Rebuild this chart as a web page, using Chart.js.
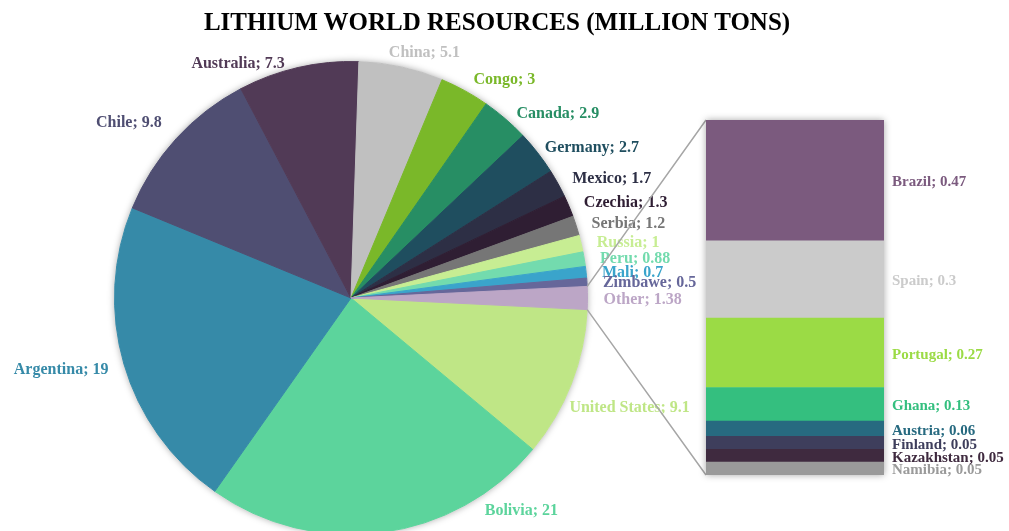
<!DOCTYPE html>
<html>
<head>
<meta charset="utf-8">
<title>Lithium world resources</title>
<script src="https://cdn.jsdelivr.net/npm/chart.js@4.4.1/dist/chart.umd.min.js"></script>
<style>
  html, body { margin: 0; padding: 0; background: #fff; overflow: hidden; }
  #wrap { position: relative; width: 1009px; height: 531px; overflow: hidden; }
  #title {
    position: absolute; left: 0; top: 8px; width: 994px;
    text-align: center; line-height: 28px;
    font: bold 25px "Liberation Serif", serif; color: #000;
  }
  canvas { position: absolute; left: 0; top: 0; }
</style>
</head>
<body>
<div id="wrap">
  <canvas id="pie" width="1009" height="545"></canvas>
  <canvas id="bar" width="1009" height="545"></canvas>
  <div id="title">LITHIUM WORLD RESOURCES (MILLION TONS)</div>
</div>
<script>
// main pie, clockwise from the "Other" slice
const pieLabels = ['United States', 'Bolivia', 'Argentina', 'Chile', 'Australia', 'China', 'Congo',
    'Canada', 'Germany', 'Mexico', 'Czechia', 'Serbia', 'Russia', 'Peru', 'Mali', 'Zimbawe', 'Other'];
const pieValues = [9.1, 21, 19, 9.8, 7.3, 5.1, 3, 2.9, 2.7, 1.7, 1.3, 1.2, 1, 0.88, 0.7, 0.5, 1.38];
const pieColors = ['#bfe686', '#5cd49c', '#368aa8', '#4f4e72', '#513a56', '#c0c0c0', '#7ab829',
    '#278e64', '#1f4e5f', '#2d2f45', '#2f1e33', '#767676', '#c7ed93', '#73dbae', '#3aa4cb', '#66679a', '#bca6c6'];

// breakdown of "Other", top to bottom
const barLabels = ['Brazil', 'Spain', 'Portugal', 'Ghana', 'Austria', 'Finland', 'Kazakhstan', 'Namibia'];
const barValues = [0.47, 0.3, 0.27, 0.13, 0.06, 0.05, 0.05, 0.05];
const barColors = ['#7b5a7e', '#cbcbcb', '#9bdb45', '#34bf7f', '#276a80', '#3e3e5c', '#3f2a3f', '#9a9a9a'];

const labelFont = 'bold 16px "Liberation Serif", serif';
const barLabelFont = 'bold 15px "Liberation Serif", serif';

// a few labels were dragged by hand in the original
const labelNudge = {
    'Australia': [-36, 8],
    'China': [5, -2],
    'Bolivia': [128, -37],
    'United States': [-17, 17],
    'Chile': [-2, -8],
    'Canada': [0, 4],
    'Germany': [-6, 2]
};

const pieExtras = {
    id: 'pieExtras',
    beforeDatasetsDraw(chart) {
        const arc = chart.getDatasetMeta(0).data[0];
        const ctx = chart.ctx;
        ctx.save();
        ctx.shadowColor = 'rgba(0, 0, 0, 0.35)';
        ctx.shadowBlur = 7;
        ctx.fillStyle = '#fff';
        ctx.beginPath();
        ctx.arc(arc.x, arc.y, arc.outerRadius, 0, Math.PI * 2);
        ctx.fill();
        ctx.restore();
    },
    afterDatasetsDraw(chart) {
        const ctx = chart.ctx;
        const meta = chart.getDatasetMeta(0);
        ctx.save();
        ctx.font = labelFont;
        ctx.textBaseline = 'middle';
        meta.data.forEach((arc, i) => {
            const mid = (arc.startAngle + arc.endAngle) / 2;
            const r = arc.outerRadius + 14;
            const cos = Math.cos(mid);
            const ax = arc.x + cos * r;
            const ay = arc.y + Math.sin(mid) * r + 2;
            const text = pieLabels[i] + '; ' + pieValues[i];
            const w = ctx.measureText(text).width;
            let x;
            if (cos >= 0.35) {
                ctx.textAlign = 'left';
                x = ax + 2;
            } else if (cos <= -0.35) {
                ctx.textAlign = 'right';
                x = ax - 2;
            } else {
                ctx.textAlign = 'center';
                x = ax + cos * w;
            }
            const nudge = labelNudge[pieLabels[i]] || [0, 0];
            ctx.fillStyle = pieColors[i];
            ctx.fillText(text, x + nudge[0], ay + nudge[1]);
        });
        ctx.restore();
    }
};

const total = pieValues.reduce((a, b) => a + b, 0);
const otherIndex = pieLabels.indexOf('Other');

const pieChart = new Chart(document.getElementById('pie'), {
    type: 'pie',
    data: {
        labels: pieLabels,
        datasets: [{
            data: pieValues,
            backgroundColor: pieColors,
            borderColor: pieColors,
            borderWidth: 1,
            hoverOffset: 0,
            offset: 0
        }]
    },
    options: {
        responsive: false,
        animation: false,
        // keep "Other" centred on the right, like Excel's bar of pie
        rotation: 90 + pieValues[otherIndex] / total * 180,
        layout: { padding: { left: 114, right: 421, top: 61, bottom: 10 } },
        plugins: {
            legend: { display: false },
            tooltip: { enabled: false }
        }
    },
    plugins: [pieExtras]
});

const barExtras = {
    id: 'barExtras',
    beforeDatasetsDraw(chart) {
        const ctx = chart.ctx;
        const area = chart.chartArea;
        const other = pieChart.getDatasetMeta(0).data[otherIndex];
        ctx.save();
        // connector lines from the "Other" slice to the bar
        ctx.strokeStyle = '#a6a6a6';
        ctx.lineWidth = 1.5;
        ctx.beginPath();
        ctx.moveTo(other.x + Math.cos(other.startAngle) * other.outerRadius,
                   other.y + Math.sin(other.startAngle) * other.outerRadius);
        ctx.lineTo(area.left, area.top);
        ctx.moveTo(other.x + Math.cos(other.endAngle) * other.outerRadius,
                   other.y + Math.sin(other.endAngle) * other.outerRadius);
        ctx.lineTo(area.left, area.bottom);
        ctx.stroke();
        // soft shadow behind the bar
        ctx.shadowColor = 'rgba(0, 0, 0, 0.35)';
        ctx.shadowBlur = 7;
        ctx.fillStyle = '#fff';
        ctx.fillRect(area.left, area.top, area.right - area.left, area.bottom - area.top);
        ctx.restore();
    },
    afterDatasetsDraw(chart) {
        const ctx = chart.ctx;
        const area = chart.chartArea;
        ctx.save();
        ctx.font = barLabelFont;
        ctx.textBaseline = 'middle';
        ctx.textAlign = 'left';
        chart.data.datasets.forEach((ds, i) => {
            const el = chart.getDatasetMeta(i).data[0];
            ctx.fillStyle = ds.labelColor;
            ctx.fillText(ds.label + '; ' + ds.data[0], area.right + 8, (el.y + el.base) / 2 + 2);
        });
        ctx.restore();
    }
};

const barChart = new Chart(document.getElementById('bar'), {
    type: 'bar',
    data: {
        labels: ['Other'],
        // stacked bottom-up, so the list is reversed
        datasets: barLabels.map((name, i) => ({
            label: name,
            data: [barValues[i]],
            backgroundColor: barColors[i],
            labelColor: barColors[i],
            borderWidth: 0,
            barPercentage: 1,
            categoryPercentage: 1
        })).reverse()
    },
    options: {
        responsive: false,
        animation: false,
        layout: { padding: { left: 706, right: 125, top: 120, bottom: 70 } },
        scales: {
            x: { stacked: true, display: false },
            y: { stacked: true, display: false, min: 0, max: barValues.reduce((a, b) => a + b, 0) }
        },
        plugins: {
            legend: { display: false },
            tooltip: { enabled: false }
        }
    },
    plugins: [barExtras]
});
</script>
</body>
</html>
